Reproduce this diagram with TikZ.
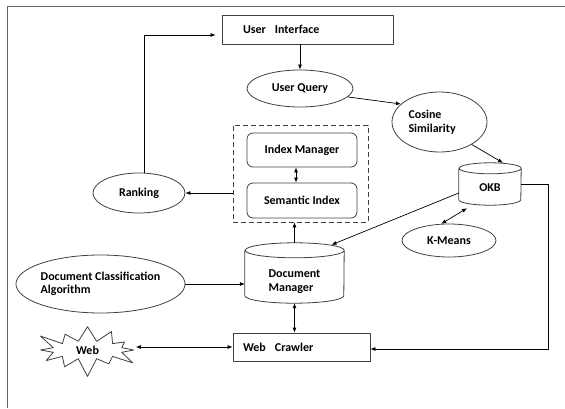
\documentclass[tikz,border=0pt]{standalone}
\usepackage{fontspec}
\setmainfont{Carlito}
\usetikzlibrary{arrows.meta,positioning,shapes.geometric,shapes.symbols,calc}

\begin{document}
\begin{tikzpicture}[
    x=1pt, y=1pt,
    line join=round,
    font=\bfseries\fontsize{12}{13.5}\selectfont,
    frameline/.style={draw=black!60, line width=1pt},
    boxC/.style={rectangle, draw=black!75, line width=0.8pt, inner sep=0pt},
    roundC/.style={boxC, rounded corners=6pt},
    ovalC/.style={ellipse, draw=black!75, line width=0.8pt, inner sep=0pt},
    drumC/.style={rectangle, inner sep=0pt},
    drumline/.style={draw=black!75, line width=0.8pt},
    burstC/.style={starburst, draw=black!75, line width=0.8pt, inner sep=0pt,
                   starburst points=12, starburst point height=20pt},
    grpC/.style={rectangle, draw=black!75, line width=0.8pt, inner sep=0pt,
                 dash pattern=on 5pt off 3pt},
    link/.style={black, line width=0.7pt, -{Latex[length=5pt,width=4pt]}},
    link2/.style={link, {Latex[length=5pt,width=4pt]}-{Latex[length=5pt,width=4pt]}},
  ]
  \useasboundingbox (0,0) rectangle (565,408);

  % ---------- outer frame (only top and left edges show) ----------
  \draw[frameline] (7,0) -- (7,401) -- (565,401);

  % ---------- query side ----------
  \node[boxC, minimum width=171, minimum height=29, text width=129, align=left]
    (ui) at (307.5,378.5) {User\hspace{9pt}Interface};
  \node[ovalC, minimum width=106, minimum height=37] (uq) at (300,319.5) {User Query};
  \node[ovalC, minimum width=95, minimum height=60, text width=62, align=left]
    (cs) at (439.5,286) {Cosine\\Similarity};
  \node[ovalC, minimum width=92, minimum height=40] (rk) at (139,215) {Ranking};

  % ---------- index group (dashed) ----------
  \node[grpC, minimum width=135, minimum height=97] (grp) at (300.5,234.5) {};
  \node[roundC, minimum width=110, minimum height=34] (im) at (302,258) {Index Manager};
  \node[roundC, minimum width=110, minimum height=35] (si) at (302,207.5) {Semantic Index};

  % ---------- stores (cylinders drawn round the nodes) ----------
  \def\okbry{5.5}\def\dmry{7.5}
  \node[drumC, minimum width=62, minimum height=42] (okb) at (490,224) {};
  \node at ([yshift=-4]okb.center) {OKB};
  \draw[drumline] ([yshift=-\okbry]okb.north west) -- ([yshift=\okbry]okb.south west)
    arc[start angle=180, end angle=360, x radius=31, y radius=\okbry]
    -- ([yshift=-\okbry]okb.north east)
    arc[start angle=0, end angle=180, x radius=31, y radius=\okbry]
    arc[start angle=180, end angle=360, x radius=31, y radius=\okbry];

  \node[drumC, minimum width=99, minimum height=60] (dm) at (294.5,135) {};
  \node[align=left] at ([yshift=-8.5]dm.center) {Document\\Manager};
  \draw[drumline] ([yshift=-\dmry]dm.north west) -- ([yshift=\dmry]dm.south west)
    arc[start angle=180, end angle=360, x radius=49.5, y radius=\dmry]
    -- ([yshift=-\dmry]dm.north east)
    arc[start angle=0, end angle=180, x radius=49.5, y radius=\dmry]
    arc[start angle=180, end angle=360, x radius=49.5, y radius=\dmry];

  \node[ovalC, minimum width=94, minimum height=33] (km) at (449,167.5) {K-Means};
  \node[ovalC, minimum width=169, minimum height=58, align=left]
    (dc) at (100.5,124) {Document Classification\\Algorithm};

  % ---------- crawling ----------
  \node[boxC, minimum width=137, minimum height=28, text width=117, align=left]
    (wc) at (301.5,61) {Web\hspace{9pt}Crawler};
  \node[burstC, minimum width=111pt, minimum height=58pt] (web) at (87.5,58) {Web};
  \coordinate (rail) at (548,0);

  % ---------- connectors ----------
  \draw[link] (uq.north |- ui.south) -- (uq.north);
  \draw[link] (uq.-10) -- (cs.155);
  \draw[link] (cs.-35) -- ([xshift=13]okb.north);
  \draw[link] ([yshift=-9]okb.west) -- ([xshift=37,yshift=-2]dm.north);
  \draw[link2] ([xshift=-23,yshift=-3]okb.south) -- (km.115);
  \draw[link] (okb.east) -- (okb.east -| rail) |- ([yshift=-2]wc.east);
  \draw[link] (dm.north) -- (dm.north |- grp.south);
  \draw[link2] ([xshift=-6]im.south) -- ([xshift=-6]si.north);
  \draw[link] (rk.east -| grp.west) -- (rk.east);
  \draw[link, shorten >=6pt] ([xshift=5]rk.north) |- ([yshift=-5.5]ui.west);
  \draw[link] (dc.east) -- (dc.east -| dm.west);
  \draw[link2] (dm.south) -- (dm.south |- wc.north);
  \draw[link2] (web.east |- wc.west) -- (wc.west);

\end{tikzpicture}
\end{document}
